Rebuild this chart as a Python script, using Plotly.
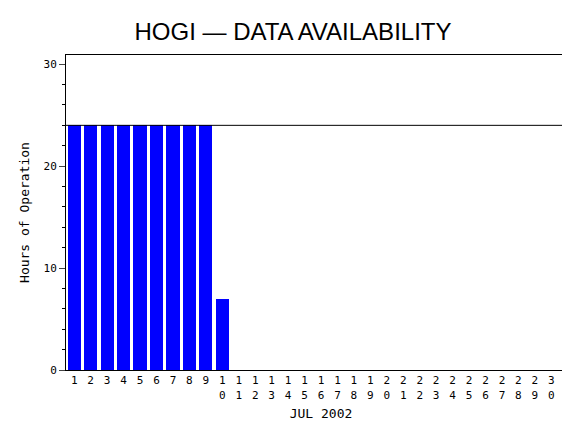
import plotly.graph_objects as go

days = list(range(1, 32))
hours = [24, 24, 24, 24, 24, 24, 24, 24, 24, 7] + [0] * 21
tick_labels = ["<br>".join(str(d)) for d in days]
max_hours = 24

fig = go.Figure(go.Bar(
    x=days, y=hours, width=0.8,
    marker=dict(color="#0000ff", line=dict(width=0)),
))

fig.add_hline(y=max_hours, line=dict(color="black", width=1))

fig.update_layout(
    width=570, height=430,
    paper_bgcolor="white", plot_bgcolor="white",
    margin=dict(l=58, r=2, t=47, b=68),
    title=dict(text="HOGI \u2014 DATA AVAILABILITY", x=0.5, xanchor="center", y=0.965,
               font=dict(family="Liberation Sans", size=24, color="black")),
    font=dict(family="DejaVu Sans Mono", size=11, color="black"),
    showlegend=False,
    bargap=0,
)
fig.update_xaxes(
    range=[0.5, 31.5], tickvals=days, ticktext=tick_labels,
    showline=True, linecolor="black", mirror=True, ticks="",
    showgrid=False, automargin=False, title=dict(text="JUL 2002", standoff=8),
)
fig.update_yaxes(
    range=[0, 30.9], tickvals=[0, 10, 20, 30],
    showline=True, linecolor="black", mirror=True,
    ticks="outside", ticklen=6, showgrid=False, zeroline=False,
    automargin=False,
    minor=dict(dtick=2, ticks="outside", ticklen=3, tickcolor="black"),
    title=dict(text="Hours of Operation", standoff=10),
)

fig.write_html("out.html")
